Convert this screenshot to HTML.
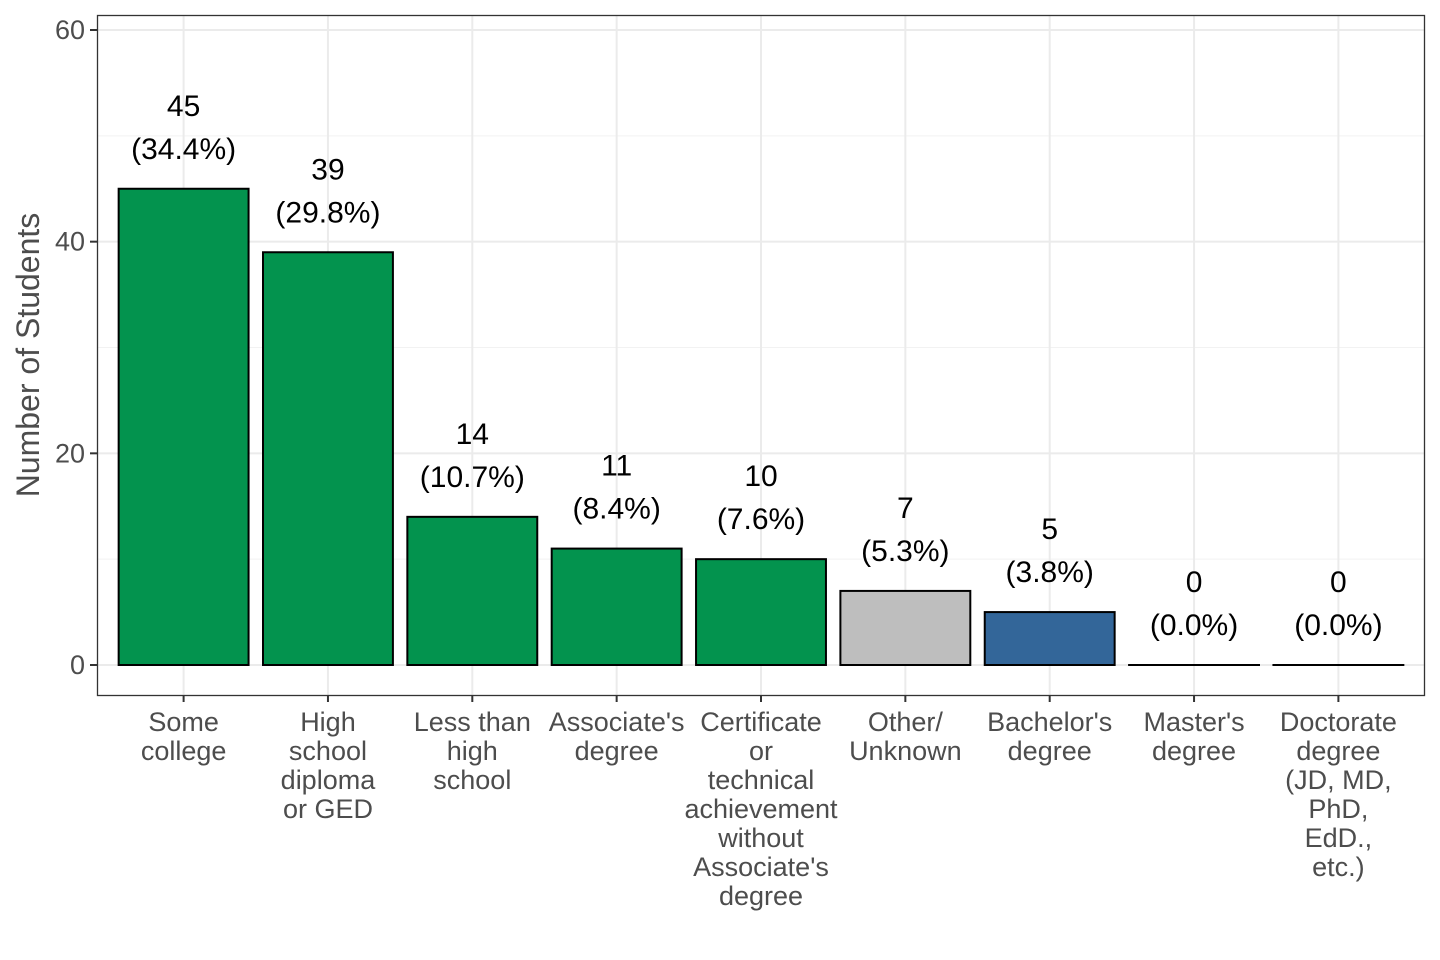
<!DOCTYPE html>
<html><head><meta charset="utf-8"><style>
html,body{margin:0;padding:0;background:#fff;}
svg{display:block;font-family:"Liberation Sans",Arial,sans-serif;}
</style></head><body>
<svg id="chart" width="1440" height="960" viewBox="0 0 1440 960">
<g id="grid"></g>
<g id="bars"></g>
<g id="labels"></g>
<rect x="97.5" y="15.5" width="1327" height="680" fill="none" stroke="#333" stroke-width="1.3"/>
<g id="axes"></g>
<text x="0" y="0" transform="translate(39,355) rotate(-90)" text-anchor="middle" font-size="32" fill="#4d4d4d">Number of Students</text>
</svg>
<script>
const categories = [["Some","college"],["High","school","diploma","or GED"],["Less than","high","school"],["Associate's","degree"],["Certificate","or","technical","achievement","without","Associate's","degree"],["Other/","Unknown"],["Bachelor's","degree"],["Master's","degree"],["Doctorate","degree","(JD, MD,","PhD,","EdD.,","etc.)"]];
const counts = [45,39,14,11,10,7,5,0,0];
const percents = ["34.4%","29.8%","10.7%","8.4%","7.6%","5.3%","3.8%","0.0%","0.0%"];
const colors = ["#03934e","#03934e","#03934e","#03934e","#03934e","#bebebe","#336699","#03934e","#03934e"];
const yTicks = [0,20,40,60];
const yMinor = [10,30,50];

const NS="http://www.w3.org/2000/svg";
const L=97,R=1425;
const step=(R-L)/(categories.length-1+1.2);
const xc=i=>L+step*(0.6+i);
const y=v=>665-v*(635/60);
const bw=step*0.9;
function mk(tag,attrs,parent){const e=document.createElementNS(NS,tag);for(const k in attrs)e.setAttribute(k,attrs[k]);parent.appendChild(e);return e;}
const grid=document.getElementById('grid'),bars=document.getElementById('bars'),labels=document.getElementById('labels'),axes=document.getElementById('axes');
yMinor.forEach(v=>{const l=mk('line',{x1:L,x2:R,y1:y(v),y2:y(v),stroke:'#f2f2f2','stroke-width':1},grid);

});
yTicks.forEach(v=>{const l=mk('line',{x1:L,x2:R,y1:y(v),y2:y(v),stroke:'#ebebeb','stroke-width':2},grid);


const t=mk('line',{x1:L-7,x2:L,y1:y(v),y2:y(v),stroke:'#333','stroke-width':2},axes);


const tx=mk('text',{x:L-12,y:y(v)+9,'text-anchor':'end','font-size':27,fill:'#4d4d4d'},axes);tx.textContent=v;

});
categories.forEach((c,i)=>{const x=xc(i);
const g=mk('line',{x1:x,x2:x,y1:15,y2:695,stroke:'#ebebeb','stroke-width':2},grid);


const top=y(counts[i]);
let b;
if(counts[i]>0){b=mk('rect',{x:x-bw/2,y:top,width:bw,height:y(0)-top,fill:colors[i],stroke:'#000','stroke-width':2},bars);}
else{b=mk('line',{x1:x-bw/2-1,x2:x+bw/2+1,y1:top,y2:top,stroke:'#000','stroke-width':2},bars);}


const t1=mk('text',{x:x,y:top-73,'text-anchor':'middle','font-size':30,fill:'#000'},labels);t1.textContent=counts[i];


const t2=mk('text',{x:x,y:top-30,'text-anchor':'middle','font-size':30,fill:'#000'},labels);t2.textContent='('+percents[i]+')';


const tk=mk('line',{x1:x,x2:x,y1:695,y2:702,stroke:'#333','stroke-width':2},axes);


const tl=mk('text',{x:x,y:731,'text-anchor':'middle','font-size':27,fill:'#4d4d4d'},axes);


c.forEach((line,j)=>{const s=mk('tspan',{x:x,dy:j?29:0},tl);s.textContent=line;});
});
</script>
</body></html>
